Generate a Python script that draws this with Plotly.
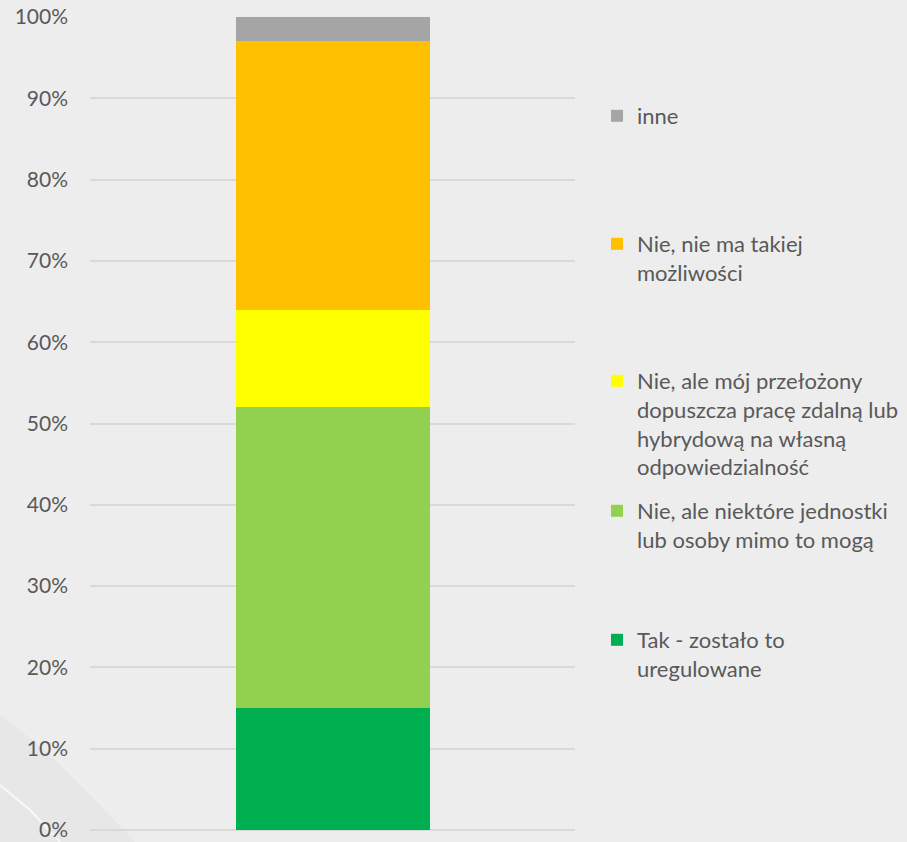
import plotly.graph_objects as go

# Survey answers, stacked bottom-to-top (percent of respondents)
categories = [""]
answers = [
    "Tak - zostało to<br>uregulowane",
    "Nie, ale niektóre jednostki<br>lub osoby mimo to mogą",
    "Nie, ale mój przełożony<br>dopuszcza pracę zdalną lub<br>hybrydową na własną<br>odpowiedzialność",
    "Nie, nie ma takiej<br>możliwości",
    "inne",
]
shares = [15, 37, 12, 33, 3]
colors = ["#00B050", "#92D050", "#FFFF00", "#FFC000", "#A5A5A5"]
tick_values = [0, 10, 20, 30, 40, 50, 60, 70, 80, 90, 100]
tick_labels = [f"{v}%" for v in tick_values]

W, H = 907, 842
M_L, M_R, M_T, M_B = 90, 332, 17, 12
PW, PH = W - M_L - M_R, H - M_T - M_B

def px_x(px):
    return (px - M_L) / PW

def px_y(py):
    return (H - M_B - py) / PH

# top of the first legend line for each answer (pixels)
legend_tops = [625, 496, 366, 229, 101]

FONT = "Lato"
TXT = "#595959"

fig = go.Figure()
layout_legends = {}
for i, (name, val, col) in enumerate(zip(answers, shares, colors)):
    key = "legend" if i == 0 else f"legend{i + 1}"
    fig.add_trace(go.Bar(
        x=categories, y=[val], name=name,
        marker=dict(color=col, line=dict(width=0)),
        legend=key, width=0.4,
        hovertemplate=f"{val}%<extra></extra>",
    ))
    layout_legends[key] = dict(
        x=px_x(597), y=px_y(legend_tops[i] - 6),
        xanchor="left", yanchor="top", valign="top",
        bgcolor="rgba(0,0,0,0)",
        font=dict(family=FONT, size=22, color=TXT),
    )

# faint decorative swoosh in the lower-left corner
band_pts = [(0, 715), (45, 750), (95, 800), (135, 842), (0, 842)]
band_path = "M " + " L ".join(f"{px_x(a)},{px_y(b)}" for a, b in band_pts) + " Z"
line_pts = [(0, 785), (30, 810), (60, 842)]
line_path = "M " + " L ".join(f"{px_x(a)},{px_y(b)}" for a, b in line_pts)

fig.update_layout(
    width=W, height=H,
    margin=dict(l=M_L, r=M_R, t=M_T, b=M_B, autoexpand=False),
    paper_bgcolor="#EDEDED", plot_bgcolor="rgba(0,0,0,0)",
    barmode="stack", bargap=0.6,
    showlegend=True,
    font=dict(family=FONT, size=21, color=TXT),
    xaxis=dict(range=[-0.5, 0.5], showticklabels=False, showgrid=False,
               zeroline=False, showline=False, fixedrange=True),
    yaxis=dict(range=[0, 100], tickvals=tick_values, ticktext=tick_labels,
               showgrid=True, gridcolor="#D9D9D9", gridwidth=1.5,
               zeroline=True, zerolinecolor="#D9D9D9", zerolinewidth=1.5,
               showline=False, ticks="", ticklabelstandoff=21,
               tickfont=dict(family=FONT, size=21, color=TXT)),
    shapes=[
        dict(type="path", path=band_path, xref="paper", yref="paper",
             fillcolor="#E8E7E8", line=dict(width=0), layer="below"),
        dict(type="path", path=line_path, xref="paper", yref="paper",
             line=dict(color="#F8F8F8", width=2), layer="below"),
    ],
    **layout_legends,
)

fig.write_html("out.html")
